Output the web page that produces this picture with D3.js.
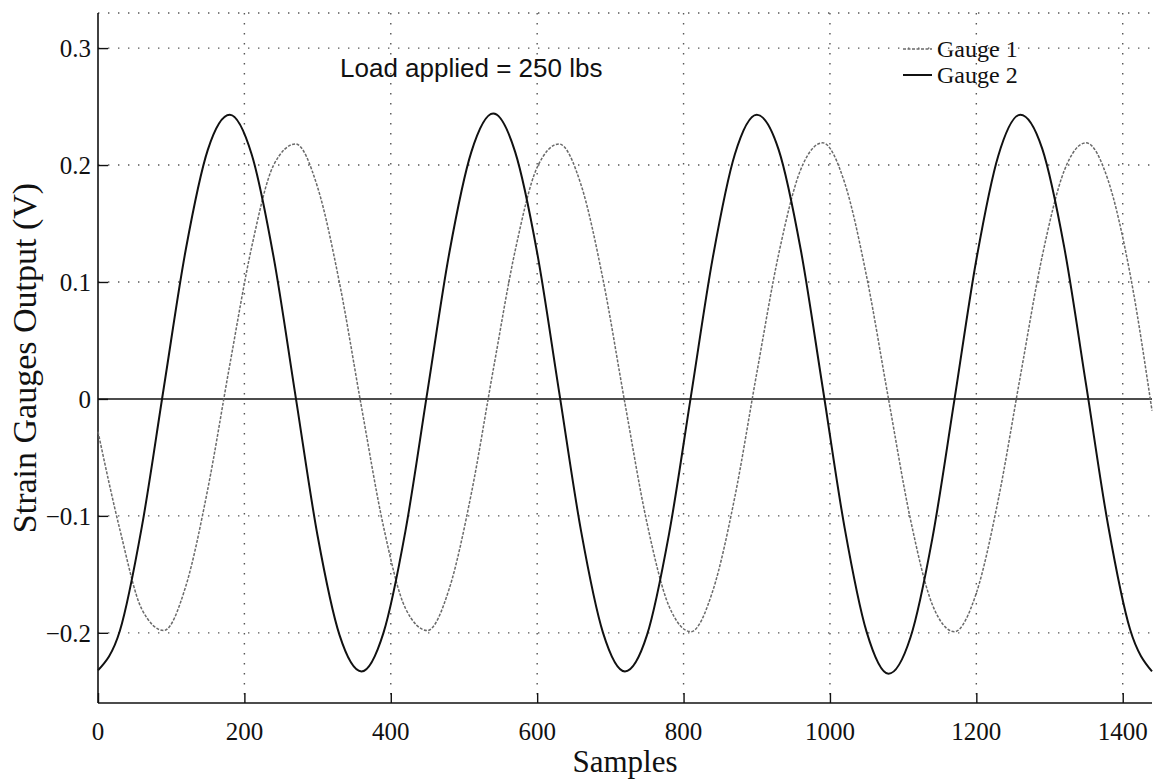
<!DOCTYPE html>
<html>
<head>
<meta charset="utf-8">
<script src="https://cdn.jsdelivr.net/npm/d3@7"></script>
<style>
  body { margin: 0; background: #fff; }
  svg { display: block; }
</style>
</head>
<body>
<svg id="chart"></svg>
<script>
const samples = [0, 30, 60, 90, 120, 150, 180, 210, 240, 270, 300, 330, 360, 390, 420, 450,
  480, 510, 540, 570, 600, 630, 660, 690, 720, 750, 780, 810, 840, 870, 900, 930,
  960, 990, 1020, 1050, 1080, 1110, 1140, 1170, 1200, 1230, 1260, 1290, 1320, 1350,
  1380, 1410, 1440];

const gauge1 = [-0.028, -0.112, -0.180, -0.198, -0.160, -0.077, 0.029, 0.130, 0.200, 0.218,
  0.181, 0.099, -0.007, -0.109, -0.179, -0.198, -0.162, -0.081, 0.025, 0.127, 0.198,
  0.218, 0.183, 0.102, -0.004, -0.106, -0.177, -0.199, -0.164, -0.084, 0.022, 0.124,
  0.196, 0.219, 0.185, 0.105, 0.000, -0.103, -0.176, -0.199, -0.166, -0.086, 0.019,
  0.122, 0.195, 0.219, 0.187, 0.107, -0.010];

const gauge2 = [-0.232, -0.198, -0.109, 0.010, 0.128, 0.213, 0.243, 0.209, 0.121, 0.002,
  -0.117, -0.202, -0.233, -0.200, -0.113, 0.006, 0.125, 0.211, 0.244, 0.211, 0.125,
  0.006, -0.113, -0.200, -0.233, -0.202, -0.116, 0.002, 0.121, 0.209, 0.243, 0.213,
  0.128, 0.010, -0.110, -0.199, -0.235, -0.204, -0.119, -0.001, 0.119, 0.208, 0.243,
  0.214, 0.130, 0.012, -0.108, -0.197, -0.233];

const seriesNames = ['Gauge 1', 'Gauge 2'];
const xTicks = [0, 200, 400, 600, 800, 1000, 1200, 1400];
const yTicks = [-0.2, -0.1, 0, 0.1, 0.2, 0.3];
const xDomain = [0, 1440];
const yDomain = [-0.26, 0.33];
const note = 'Load applied = 250 lbs';

const W = 1161, H = 783;
const margin = { top: 13, right: 9, bottom: 80, left: 98 };
const width = W - margin.left - margin.right;
const height = H - margin.top - margin.bottom;

const svg = d3.select('#chart')
  .attr('width', W)
  .attr('height', H)
  .append('g')
  .attr('transform', `translate(${margin.left},${margin.top})`);

const x = d3.scaleLinear().domain(xDomain).range([0, width]);
const y = d3.scaleLinear().domain(yDomain).range([height, 0]);

const serif = '"Liberation Serif", "Times New Roman", serif';
const gridColor = '#555';

// dotted grid
svg.append('g')
  .selectAll('line')
  .data(xTicks.filter(d => d !== 0))
  .enter().append('line')
  .attr('x1', d => x(d)).attr('x2', d => x(d))
  .attr('y1', 0).attr('y2', height)
  .attr('stroke', gridColor)
  .attr('stroke-width', 1.4)
  .attr('stroke-dasharray', '1.4,8.6');

svg.append('g')
  .selectAll('line')
  .data(yTicks.filter(d => d !== 0).concat([yDomain[1]]))
  .enter().append('line')
  .attr('x1', 0).attr('x2', width)
  .attr('y1', d => y(d)).attr('y2', d => y(d))
  .attr('stroke', gridColor)
  .attr('stroke-width', 1.4)
  .attr('stroke-dasharray', '1.4,8.6');

// zero reference line
svg.append('line')
  .attr('x1', 0).attr('x2', width)
  .attr('y1', y(0)).attr('y2', y(0))
  .attr('stroke', '#111')
  .attr('stroke-width', 1.6);

// axes, ticks pointing inward
const xAxis = svg.append('g')
  .attr('transform', `translate(0,${height})`)
  .call(d3.axisTop(x).tickValues(xTicks).tickSize(10).tickFormat(''));
xAxis.select('.domain').attr('d', `M0,0H${width}`);

const yAxis = svg.append('g')
  .call(d3.axisRight(y).tickValues(yTicks).tickSize(10).tickFormat(''));
yAxis.select('.domain').attr('d', `M0,${height}V0`);

svg.selectAll('.domain').attr('stroke', '#111').attr('stroke-width', 1.6);
svg.selectAll('.tick line').attr('stroke', '#111').attr('stroke-width', 1.4);

// tick labels
svg.append('g')
  .selectAll('text')
  .data(xTicks)
  .enter().append('text')
  .attr('x', d => x(d))
  .attr('y', height + 37)
  .attr('text-anchor', 'middle')
  .attr('font-family', serif)
  .attr('font-size', 25)
  .attr('fill', '#111')
  .text(d => d);

svg.append('g')
  .selectAll('text')
  .data(yTicks)
  .enter().append('text')
  .attr('x', -7)
  .attr('y', d => y(d))
  .attr('dy', '0.35em')
  .attr('text-anchor', 'end')
  .attr('font-family', serif)
  .attr('font-size', 25)
  .attr('fill', '#111')
  .text(d => d === 0 ? '0' : d3.format('.1f')(d).replace('-', '\u2212'));

// axis titles
svg.append('text')
  .attr('x', width / 2)
  .attr('y', height + 69)
  .attr('text-anchor', 'middle')
  .attr('font-family', serif)
  .attr('font-size', 31)
  .attr('fill', '#111')
  .text('Samples');

svg.append('text')
  .attr('transform', `translate(${-margin.left + 36},${height / 2}) rotate(-90)`)
  .attr('text-anchor', 'middle')
  .attr('font-family', serif)
  .attr('font-size', 34)
  .attr('fill', '#111')
  .text('Strain Gauges Output (V)');

// traces
const line = vals => d3.line()
  .x((d, i) => x(samples[i]))
  .y(d => y(d))
  .curve(d3.curveMonotoneX)(vals);

svg.append('path')
  .attr('d', line(gauge1))
  .attr('fill', 'none')
  .attr('stroke', '#6a6a6a')
  .attr('stroke-width', 1.5)
  .attr('stroke-dasharray', '3,1.5');

svg.append('path')
  .attr('d', line(gauge2))
  .attr('fill', 'none')
  .attr('stroke', '#111')
  .attr('stroke-width', 2);

// annotation
svg.append('text')
  .attr('x', 340 - margin.left)
  .attr('y', 77 - margin.top)
  .attr('font-family', '"Liberation Sans", Arial, sans-serif')
  .attr('font-size', 26)
  .attr('fill', '#111')
  .text(note);

// legend
const legend = svg.append('g')
  .attr('transform', `translate(${903 - margin.left},${49 - margin.top})`);
seriesNames.forEach((name, i) => {
  const row = legend.append('g').attr('transform', `translate(0,${i * 26})`);
  row.append('line')
    .attr('x1', 0).attr('x2', 29)
    .attr('y1', 0).attr('y2', 0)
    .attr('stroke', i === 0 ? '#6a6a6a' : '#111')
    .attr('stroke-width', i === 0 ? 1.5 : 2)
    .attr('stroke-dasharray', i === 0 ? '3,1.5' : null);
  row.append('text')
    .attr('x', 34)
    .attr('y', 0)
    .attr('dy', '0.33em')
    .attr('font-family', serif)
    .attr('font-size', 24)
    .attr('fill', '#111')
    .text(name);
});
</script>
</body>
</html>
